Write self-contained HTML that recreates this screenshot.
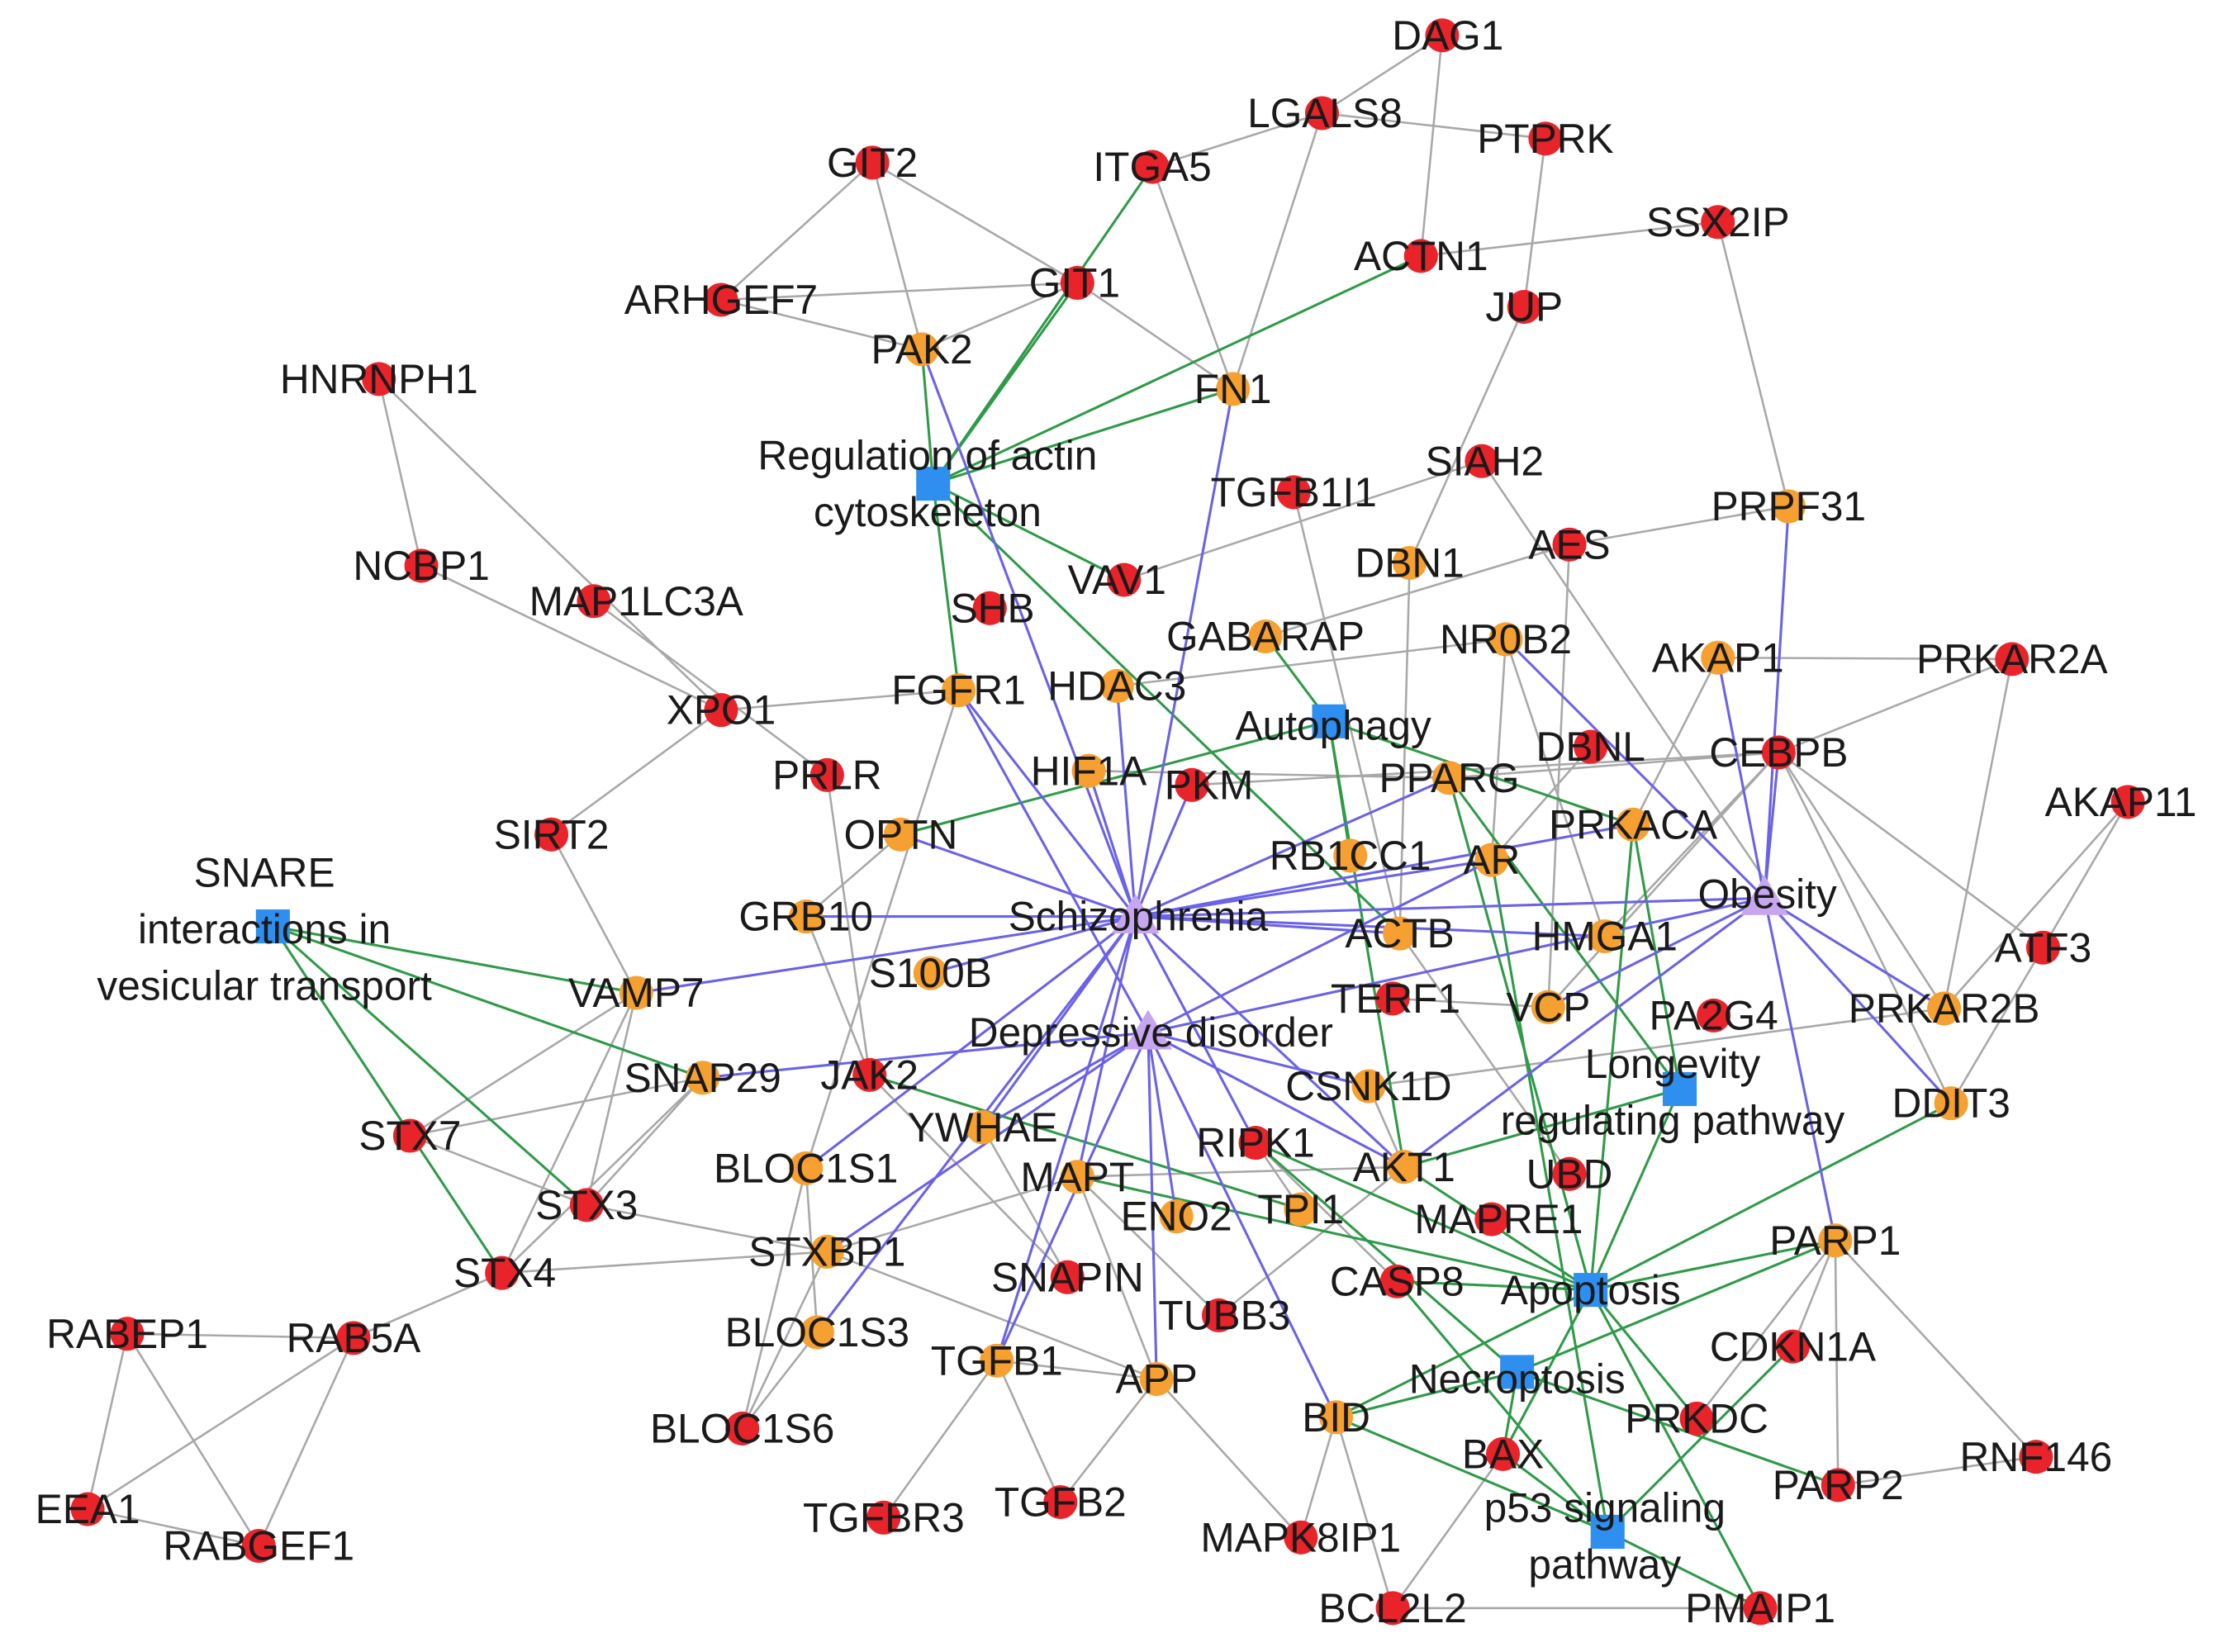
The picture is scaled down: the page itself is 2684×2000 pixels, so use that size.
<!DOCTYPE html>
<html><head><meta charset="utf-8"><style>
html,body{margin:0;padding:0;background:#fff;}
svg{display:block;}
text{font-family:"Liberation Sans",Arial,sans-serif;font-size:29px;fill:#1a1a1a;text-anchor:middle;}
.g line{stroke:#a8a8a8;stroke-width:1.5;}
.gr line{stroke:#2f9a48;stroke-width:1.8;}
.p line{stroke:#6a62e8;stroke-width:1.8;}
.r{fill:#e8232a;}
.o{fill:#f5a030;}
.b{fill:#2e8ff0;}
.t{fill:#c7a6f0;}
</style></head><body>
<svg width="2684" height="2000" viewBox="0 0 1568 1168" preserveAspectRatio="none" xmlns="http://www.w3.org/2000/svg">
<g class="g">
<line x1="1020" y1="25" x2="935" y2="80"/><line x1="1020" y1="25" x2="1005" y2="181"/>
<line x1="935" y1="80" x2="1093" y2="98"/><line x1="935" y1="80" x2="815" y2="118"/><line x1="935" y1="80" x2="872" y2="275"/>
<line x1="1093" y1="98" x2="1078" y2="217"/><line x1="815" y1="118" x2="872" y2="275"/>
<line x1="617" y1="115" x2="510" y2="212"/><line x1="617" y1="115" x2="652" y2="247"/><line x1="617" y1="115" x2="762" y2="200"/>
<line x1="1215" y1="157" x2="1005" y2="181"/><line x1="1215" y1="157" x2="1265" y2="358"/>
<line x1="510" y1="212" x2="762" y2="200"/><line x1="510" y1="212" x2="652" y2="247"/>
<line x1="762" y1="200" x2="652" y2="247"/><line x1="762" y1="200" x2="872" y2="275"/>
<line x1="1078" y1="217" x2="997" y2="398"/>
<line x1="268" y1="268" x2="298" y2="400"/><line x1="268" y1="268" x2="510" y2="502"/>
<line x1="298" y1="400" x2="510" y2="502"/><line x1="420" y1="425" x2="585" y2="548"/>
<line x1="510" y1="502" x2="678" y2="488"/><line x1="510" y1="502" x2="390" y2="590"/>
<line x1="1048" y1="326" x2="795" y2="410"/><line x1="1048" y1="326" x2="1255" y2="632"/>
<line x1="1110" y1="385" x2="1265" y2="358"/><line x1="1110" y1="385" x2="895" y2="450"/><line x1="1110" y1="385" x2="1095" y2="712"/>
<line x1="997" y1="398" x2="990" y2="660"/><line x1="915" y1="348" x2="990" y2="660"/>
<line x1="1065" y1="452" x2="790" y2="485"/><line x1="1065" y1="452" x2="1055" y2="608"/><line x1="1065" y1="452" x2="1135" y2="662"/>
<line x1="1215" y1="465" x2="1423" y2="466"/><line x1="1215" y1="465" x2="1155" y2="583"/>
<line x1="1423" y1="466" x2="1375" y2="713"/><line x1="1423" y1="466" x2="1258" y2="532"/>
<line x1="1258" y1="532" x2="1025" y2="550"/><line x1="1258" y1="532" x2="1380" y2="780"/><line x1="1258" y1="532" x2="1375" y2="713"/><line x1="1258" y1="532" x2="1135" y2="662"/><line x1="1258" y1="532" x2="1095" y2="712"/>
<line x1="1125" y1="528" x2="1055" y2="608"/>
<line x1="1505" y1="567" x2="1445" y2="670"/><line x1="1505" y1="567" x2="1375" y2="713"/>
<line x1="1445" y1="670" x2="1380" y2="780"/><line x1="1445" y1="670" x2="1258" y2="532"/>
<line x1="390" y1="590" x2="450" y2="702"/>
<line x1="585" y1="548" x2="615" y2="760"/><line x1="637" y1="590" x2="570" y2="648"/>
<line x1="570" y1="648" x2="615" y2="760"/><line x1="678" y1="488" x2="570" y2="826"/>
<line x1="450" y1="702" x2="290" y2="803"/><line x1="450" y1="702" x2="415" y2="852"/><line x1="450" y1="702" x2="355" y2="900"/>
<line x1="497" y1="762" x2="290" y2="803"/><line x1="497" y1="762" x2="415" y2="852"/><line x1="497" y1="762" x2="355" y2="900"/>
<line x1="290" y1="803" x2="415" y2="852"/><line x1="415" y1="852" x2="585" y2="885"/><line x1="355" y1="900" x2="585" y2="885"/>
<line x1="355" y1="900" x2="250" y2="946"/>
<line x1="90" y1="943" x2="250" y2="946"/><line x1="90" y1="943" x2="62" y2="1067"/><line x1="90" y1="943" x2="183" y2="1093"/>
<line x1="250" y1="946" x2="62" y2="1067"/><line x1="250" y1="946" x2="183" y2="1093"/><line x1="62" y1="1067" x2="183" y2="1093"/>
<line x1="570" y1="826" x2="578" y2="942"/><line x1="570" y1="826" x2="525" y2="1010"/><line x1="585" y1="885" x2="525" y2="1010"/>
<line x1="578" y1="942" x2="525" y2="1010"/><line x1="585" y1="885" x2="818" y2="975"/><line x1="585" y1="885" x2="762" y2="832"/>
<line x1="705" y1="962" x2="625" y2="1073"/><line x1="705" y1="962" x2="750" y2="1062"/><line x1="705" y1="962" x2="818" y2="975"/>
<line x1="818" y1="975" x2="750" y2="1062"/><line x1="818" y1="975" x2="920" y2="1087"/><line x1="818" y1="975" x2="762" y2="832"/>
<line x1="615" y1="760" x2="755" y2="903"/><line x1="755" y1="903" x2="695" y2="797"/>
<line x1="762" y1="832" x2="993" y2="825"/><line x1="862" y1="930" x2="993" y2="825"/><line x1="862" y1="930" x2="762" y2="832"/>
<line x1="888" y1="808" x2="988" y2="906"/><line x1="888" y1="808" x2="920" y2="855"/>
<line x1="945" y1="1002" x2="920" y2="1087"/><line x1="945" y1="1002" x2="985" y2="1137"/><line x1="1063" y1="1028" x2="985" y2="1137"/>
<line x1="985" y1="1137" x2="1245" y2="1137"/>
<line x1="1298" y1="877" x2="1268" y2="952"/><line x1="1298" y1="877" x2="1200" y2="1003"/><line x1="1298" y1="877" x2="1300" y2="1050"/><line x1="1298" y1="877" x2="1440" y2="1030"/>
<line x1="1300" y1="1050" x2="1440" y2="1030"/>
<line x1="985" y1="706" x2="1095" y2="712"/><line x1="968" y1="768" x2="1375" y2="713"/>
<line x1="990" y1="660" x2="1110" y2="830"/><line x1="968" y1="768" x2="993" y2="825"/>
<line x1="770" y1="545" x2="1025" y2="550"/><line x1="843" y1="555" x2="1258" y2="532"/>
</g>
<g class="gr">
<line x1="660" y1="342" x2="652" y2="247"/><line x1="660" y1="342" x2="762" y2="200"/><line x1="660" y1="342" x2="815" y2="118"/>
<line x1="660" y1="342" x2="1005" y2="181"/><line x1="660" y1="342" x2="872" y2="275"/><line x1="660" y1="342" x2="678" y2="488"/>
<line x1="660" y1="342" x2="795" y2="410"/><line x1="660" y1="342" x2="990" y2="660"/>
<line x1="193" y1="655" x2="450" y2="702"/><line x1="193" y1="655" x2="497" y2="762"/><line x1="193" y1="655" x2="415" y2="852"/><line x1="193" y1="655" x2="355" y2="900"/>
<line x1="940" y1="510" x2="895" y2="450"/><line x1="940" y1="510" x2="955" y2="605"/><line x1="940" y1="510" x2="637" y2="590"/><line x1="940" y1="510" x2="993" y2="825"/><line x1="940" y1="510" x2="1155" y2="583"/>
<line x1="1188" y1="770" x2="993" y2="825"/><line x1="1188" y1="770" x2="1155" y2="583"/><line x1="1188" y1="770" x2="1025" y2="550"/><line x1="1188" y1="770" x2="1125" y2="912"/>
<line x1="1125" y1="912" x2="1298" y2="877"/><line x1="1125" y1="912" x2="945" y2="1002"/><line x1="1125" y1="912" x2="988" y2="906"/><line x1="1125" y1="912" x2="993" y2="825"/>
<line x1="1125" y1="912" x2="888" y2="808"/><line x1="1125" y1="912" x2="1063" y2="1028"/><line x1="1125" y1="912" x2="1200" y2="1003"/><line x1="1125" y1="912" x2="1380" y2="780"/><line x1="1125" y1="912" x2="1245" y2="1137"/><line x1="1125" y1="912" x2="1025" y2="550"/><line x1="1125" y1="912" x2="1155" y2="583"/>
<line x1="1073" y1="970" x2="945" y2="1002"/><line x1="1073" y1="970" x2="1063" y2="1028"/><line x1="1073" y1="970" x2="888" y2="808"/><line x1="1073" y1="970" x2="1298" y2="877"/><line x1="1073" y1="970" x2="1300" y2="1050"/>
<line x1="1137" y1="1083" x2="945" y2="1002"/><line x1="1137" y1="1083" x2="1063" y2="1028"/><line x1="1137" y1="1083" x2="1245" y2="1137"/><line x1="1137" y1="1083" x2="988" y2="906"/><line x1="1137" y1="1083" x2="1268" y2="952"/><line x1="1137" y1="1083" x2="1055" y2="608"/>
<line x1="615" y1="760" x2="920" y2="855"/><line x1="762" y1="832" x2="1125" y2="912"/>
</g>
<g class="p">
<line x1="803" y1="648" x2="652" y2="247"/><line x1="803" y1="648" x2="872" y2="275"/><line x1="803" y1="648" x2="678" y2="488"/><line x1="803" y1="648" x2="790" y2="485"/>
<line x1="803" y1="648" x2="770" y2="545"/><line x1="803" y1="648" x2="843" y2="555"/><line x1="803" y1="648" x2="570" y2="648"/><line x1="803" y1="648" x2="658" y2="688"/>
<line x1="803" y1="648" x2="450" y2="702"/><line x1="803" y1="648" x2="695" y2="797"/><line x1="803" y1="648" x2="570" y2="826"/><line x1="803" y1="648" x2="762" y2="832"/>
<line x1="803" y1="648" x2="888" y2="808"/><line x1="803" y1="648" x2="993" y2="825"/><line x1="803" y1="648" x2="990" y2="660"/><line x1="803" y1="648" x2="1135" y2="662"/>
<line x1="803" y1="648" x2="1055" y2="608"/><line x1="803" y1="648" x2="1155" y2="583"/><line x1="803" y1="648" x2="1025" y2="550"/><line x1="803" y1="648" x2="705" y2="962"/>
<line x1="803" y1="648" x2="578" y2="942"/><line x1="803" y1="648" x2="637" y2="590"/><line x1="803" y1="648" x2="1248" y2="635"/>
<line x1="812" y1="730" x2="678" y2="488"/><line x1="812" y1="730" x2="497" y2="762"/><line x1="812" y1="730" x2="695" y2="797"/><line x1="812" y1="730" x2="705" y2="962"/>
<line x1="812" y1="730" x2="818" y2="975"/><line x1="812" y1="730" x2="945" y2="1002"/><line x1="812" y1="730" x2="993" y2="825"/><line x1="812" y1="730" x2="1055" y2="608"/>
<line x1="812" y1="730" x2="1248" y2="635"/><line x1="812" y1="730" x2="968" y2="768"/><line x1="812" y1="730" x2="832" y2="860"/><line x1="812" y1="730" x2="585" y2="885"/>
<line x1="1248" y1="635" x2="1215" y2="465"/><line x1="1248" y1="635" x2="1258" y2="532"/><line x1="1248" y1="635" x2="1265" y2="358"/><line x1="1248" y1="635" x2="1375" y2="713"/>
<line x1="1248" y1="635" x2="1380" y2="780"/><line x1="1248" y1="635" x2="1298" y2="877"/><line x1="1248" y1="635" x2="993" y2="825"/><line x1="1248" y1="635" x2="1065" y2="452"/>
<line x1="1248" y1="635" x2="1095" y2="712"/>
</g>
<g>
<rect class="b" x="648" y="330" width="24" height="24"/>
<rect class="b" x="928" y="498" width="24" height="24"/>
<rect class="b" x="181" y="643" width="24" height="24"/>
<rect class="b" x="1176" y="758" width="24" height="24"/>
<rect class="b" x="1113" y="900" width="24" height="24"/>
<rect class="b" x="1061" y="958" width="24" height="24"/>
<rect class="b" x="1125" y="1071" width="24" height="24"/>
<polygon class="t" points="803,632 820,660 786,660"/>
<polygon class="t" points="812,714 829,742 795,742"/>
<polygon class="t" points="1248,619 1265,647 1231,647"/>
</g>
<g class="r">
<circle cx="1020" cy="25" r="12"/><circle cx="935" cy="80" r="12"/><circle cx="1093" cy="98" r="12"/><circle cx="815" cy="118" r="12"/>
<circle cx="617" cy="115" r="12"/><circle cx="1215" cy="157" r="12"/><circle cx="1005" cy="181" r="12"/><circle cx="762" cy="200" r="12"/>
<circle cx="510" cy="212" r="12"/><circle cx="1078" cy="217" r="12"/><circle cx="268" cy="268" r="12"/><circle cx="1048" cy="326" r="12"/>
<circle cx="915" cy="348" r="12"/><circle cx="298" cy="400" r="12"/><circle cx="420" cy="425" r="12"/><circle cx="700" cy="430" r="12"/>
<circle cx="795" cy="410" r="12"/><circle cx="1110" cy="385" r="12"/><circle cx="510" cy="502" r="12"/><circle cx="1125" cy="528" r="12"/>
<circle cx="1258" cy="532" r="12"/><circle cx="585" cy="548" r="12"/><circle cx="843" cy="555" r="12"/><circle cx="390" cy="590" r="12"/>
<circle cx="1505" cy="567" r="12"/><circle cx="1445" cy="670" r="12"/><circle cx="615" cy="760" r="12"/><circle cx="985" cy="706" r="12"/>
<circle cx="1212" cy="718" r="12"/><circle cx="290" cy="803" r="12"/><circle cx="888" cy="808" r="12"/><circle cx="1110" cy="830" r="12"/>
<circle cx="415" cy="852" r="12"/><circle cx="1055" cy="862" r="12"/><circle cx="355" cy="900" r="12"/><circle cx="755" cy="903" r="12"/>
<circle cx="988" cy="906" r="12"/><circle cx="862" cy="930" r="12"/><circle cx="90" cy="943" r="12"/><circle cx="250" cy="946" r="12"/>
<circle cx="1268" cy="952" r="12"/><circle cx="525" cy="1010" r="12"/><circle cx="1200" cy="1003" r="12"/><circle cx="1063" cy="1028" r="12"/>
<circle cx="1300" cy="1050" r="12"/><circle cx="1440" cy="1030" r="12"/><circle cx="62" cy="1067" r="12"/><circle cx="183" cy="1093" r="12"/>
<circle cx="625" cy="1073" r="12"/><circle cx="750" cy="1062" r="12"/><circle cx="920" cy="1087" r="12"/><circle cx="985" cy="1137" r="12"/>
<circle cx="1245" cy="1137" r="12"/><circle cx="1423" cy="466" r="12"/>
</g>
<g class="o">
<circle cx="652" cy="247" r="12"/><circle cx="872" cy="275" r="12"/><circle cx="1265" cy="358" r="12"/><circle cx="997" cy="398" r="12"/>
<circle cx="895" cy="450" r="12"/><circle cx="1065" cy="452" r="12"/><circle cx="1215" cy="465" r="12"/><circle cx="678" cy="488" r="12"/>
<circle cx="790" cy="485" r="12"/><circle cx="770" cy="545" r="12"/><circle cx="1025" cy="550" r="12"/><circle cx="637" cy="590" r="12"/>
<circle cx="1155" cy="583" r="12"/><circle cx="955" cy="605" r="12"/><circle cx="1055" cy="608" r="12"/><circle cx="570" cy="648" r="12"/>
<circle cx="990" cy="660" r="12"/><circle cx="1135" cy="662" r="12"/><circle cx="658" cy="688" r="12"/><circle cx="450" cy="702" r="12"/>
<circle cx="1095" cy="712" r="12"/><circle cx="1375" cy="713" r="12"/><circle cx="497" cy="762" r="12"/><circle cx="968" cy="768" r="12"/>
<circle cx="695" cy="797" r="12"/><circle cx="1380" cy="780" r="12"/><circle cx="570" cy="826" r="12"/><circle cx="762" cy="832" r="12"/>
<circle cx="993" cy="825" r="12"/><circle cx="832" cy="860" r="12"/><circle cx="920" cy="855" r="12"/><circle cx="1298" cy="877" r="12"/>
<circle cx="585" cy="885" r="12"/><circle cx="578" cy="942" r="12"/><circle cx="705" cy="962" r="12"/><circle cx="818" cy="975" r="12"/>
<circle cx="945" cy="1002" r="12"/>
</g>
<g>
<text x="1024" y="35">DAG1</text><text x="937" y="90">LGALS8</text><text x="1093" y="108">PTPRK</text><text x="815" y="128">ITGA5</text>
<text x="617" y="125">GIT2</text><text x="1215" y="167">SSX2IP</text><text x="1005" y="191">ACTN1</text><text x="760" y="210">GIT1</text>
<text x="510" y="222">ARHGEF7</text><text x="1078" y="227">JUP</text><text x="268" y="278">HNRNPH1</text><text x="1050" y="336">SIAH2</text>
<text x="915" y="358">TGFB1I1</text><text x="298" y="410">NCBP1</text><text x="450" y="435">MAP1LC3A</text><text x="702" y="440">SHB</text>
<text x="790" y="420">VAV1</text><text x="1110" y="395">AES</text><text x="510" y="512">XPO1</text><text x="1125" y="538">DBNL</text>
<text x="1258" y="542">CEBPB</text><text x="585" y="558">PRLR</text><text x="855" y="565">PKM</text><text x="390" y="600">SIRT2</text>
<text x="1500" y="577">AKAP11</text><text x="1445" y="680">ATF3</text><text x="615" y="770">JAK2</text><text x="987" y="716">TERF1</text>
<text x="1212" y="728">PA2G4</text><text x="290" y="813">STX7</text><text x="888" y="818">RIPK1</text><text x="1110" y="840">UBD</text>
<text x="415" y="862">STX3</text><text x="1060" y="872">MAPRE1</text><text x="357" y="910">STX4</text><text x="755" y="913">SNAPIN</text>
<text x="988" y="916">CASP8</text><text x="866" y="940">TUBB3</text><text x="90" y="953">RABEP1</text><text x="250" y="956">RAB5A</text>
<text x="1268" y="962">CDKN1A</text><text x="525" y="1020">BLOC1S6</text><text x="1200" y="1013">PRKDC</text><text x="1063" y="1038">BAX</text>
<text x="1300" y="1060">PARP2</text><text x="1440" y="1040">RNF146</text><text x="62" y="1077">EEA1</text><text x="183" y="1103">RABGEF1</text>
<text x="625" y="1083">TGFBR3</text><text x="750" y="1072">TGFB2</text><text x="920" y="1097">MAPK8IP1</text><text x="985" y="1147">BCL2L2</text>
<text x="1245" y="1147">PMAIP1</text><text x="1423" y="476">PRKAR2A</text>
<text x="652" y="257">PAK2</text><text x="872" y="285">FN1</text><text x="1265" y="368">PRPF31</text><text x="997" y="408">DBN1</text>
<text x="895" y="460">GABARAP</text><text x="1065" y="462">NR0B2</text><text x="1215" y="475">AKAP1</text><text x="678" y="498">FGFR1</text>
<text x="790" y="495">HDAC3</text><text x="770" y="555">HIF1A</text><text x="1025" y="560">PPARG</text><text x="637" y="600">OPTN</text>
<text x="1155" y="593">PRKACA</text><text x="955" y="615">RB1CC1</text><text x="1055" y="618">AR</text><text x="570" y="658">GRB10</text>
<text x="990" y="670">ACTB</text><text x="1135" y="672">HMGA1</text><text x="658" y="698">S100B</text><text x="450" y="712">VAMP7</text>
<text x="1095" y="722">VCP</text><text x="1375" y="723">PRKAR2B</text><text x="497" y="772">SNAP29</text><text x="968" y="778">CSNK1D</text>
<text x="695" y="807">YWHAE</text><text x="1380" y="790">DDIT3</text><text x="570" y="836">BLOC1S1</text><text x="762" y="842">MAPT</text>
<text x="993" y="835">AKT1</text><text x="832" y="870">ENO2</text><text x="920" y="865">TPI1</text><text x="1298" y="887">PARP1</text>
<text x="585" y="895">STXBP1</text><text x="578" y="952">BLOC1S3</text><text x="705" y="972">TGFB1</text><text x="818" y="985">APP</text>
<text x="945" y="1012">BID</text>
<text x="656" y="332">Regulation of actin</text><text x="656" y="372">cytoskeleton</text>
<text x="943" y="523">Autophagy</text>
<text x="187" y="627">SNARE</text><text x="187" y="667">interactions in</text><text x="187" y="707">vesicular transport</text>
<text x="1183" y="762">Longevity</text><text x="1183" y="802">regulating pathway</text>
<text x="1125" y="922">Apoptosis</text><text x="1073" y="985">Necroptosis</text>
<text x="1135" y="1076">p53 signaling</text><text x="1135" y="1116">pathway</text>
<text x="805" y="658">Schizophrenia</text><text x="814" y="740">Depressive disorder</text><text x="1250" y="642">Obesity</text>
</g>
</svg>
</body></html>
